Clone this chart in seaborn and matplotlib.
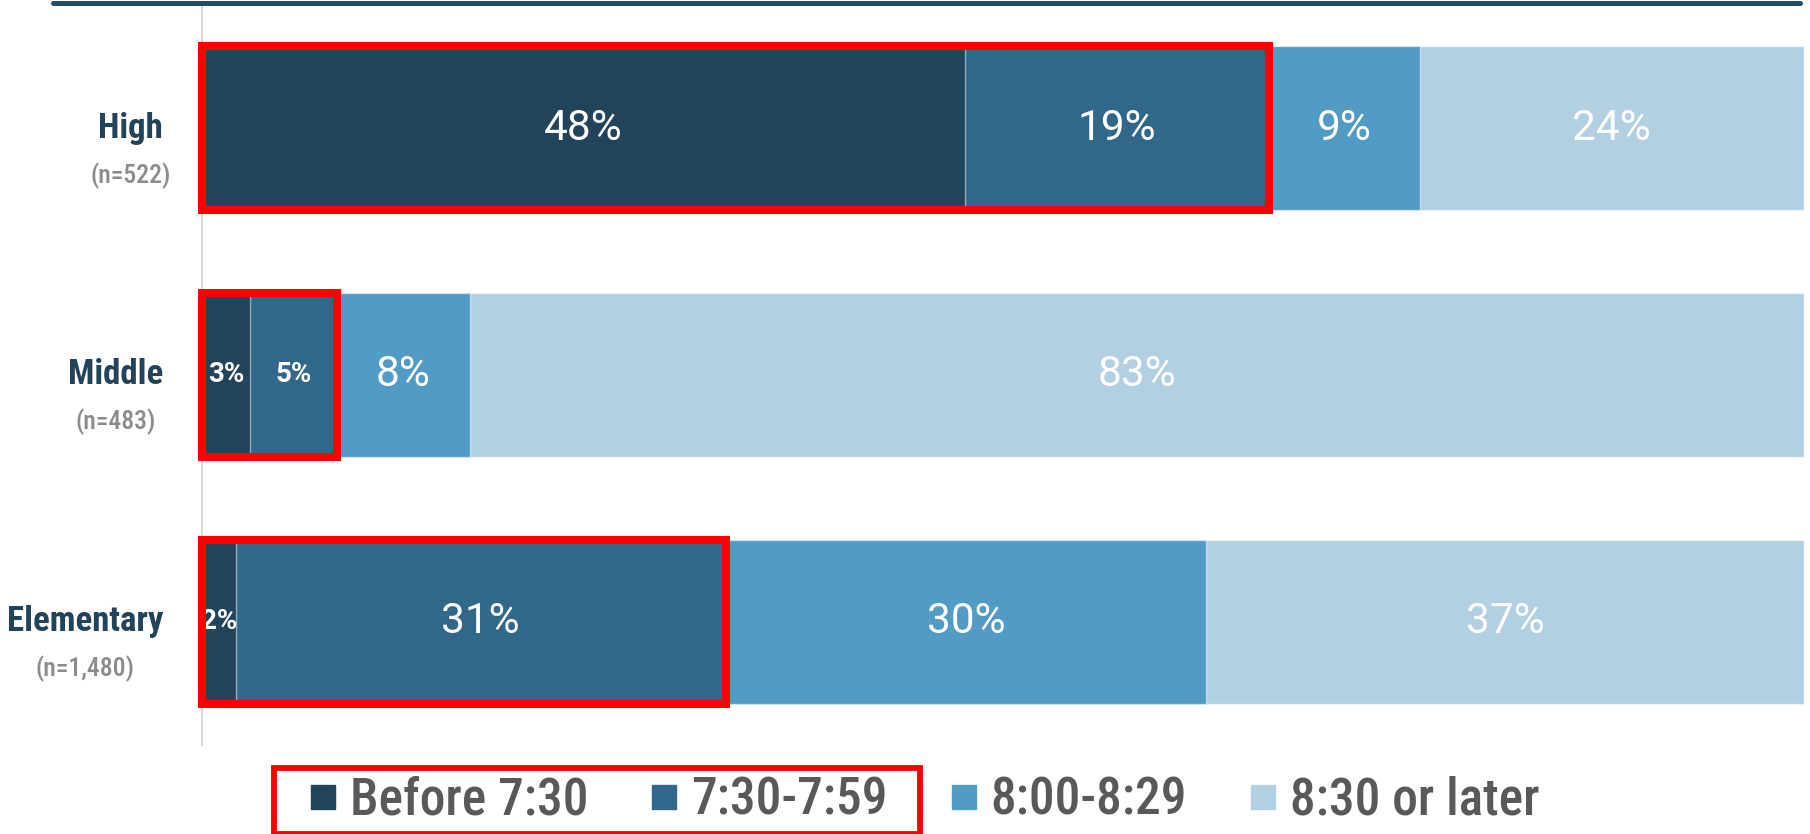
import matplotlib
matplotlib.use("Agg")
import matplotlib.pyplot as plt
import seaborn as sns
import numpy as np
from matplotlib import font_manager
from matplotlib.font_manager import FontProperties
from matplotlib.lines import Line2D
from matplotlib.patches import Rectangle
from matplotlib.transforms import Bbox

# ---- data ----
categories = ["High", "Middle", "Elementary"]
sample_sizes = ["(n=522)", "(n=483)", "(n=1,480)"]
series_names = ["Before 7:30", "7:30-7:59", "8:00-8:29", "8:30 or later"]
before_730 = [47.6, 3.0, 2.1]
t730_759 = [19.0, 5.4, 30.6]
t800_829 = [9.4, 8.3, 30.0]
t830_later = [24.0, 83.3, 37.3]
colors = ["#22445B", "#31688A", "#529BC4", "#B2D0E2"]

sns.set_theme(style="white")
plt.rcParams['font.family'] = ['Roboto', 'DejaVu Sans']

_files = {f.fname.split('/')[-1]: f.fname for f in font_manager.fontManager.ttflist}


def fp(fname, size, fallback_weight='normal'):
    if fname in _files:
        return FontProperties(fname=_files[fname], size=size)
    return FontProperties(family=['Roboto', 'DejaVu Sans'], weight=fallback_weight, size=size)


W, H = 1810, 834
fig = plt.figure(figsize=(W / 100, H / 100), dpi=100)
ax = fig.add_axes([202 / W, 1 - 745 / H, (1804 - 202) / W, 740 / H])

series = [before_730, t730_759, t800_829, t830_later]
cum = np.cumsum(np.array(series), axis=0)
bar_w = 0.665
for i in reversed(range(4)):
    sns.barplot(x=cum[i], y=categories, orient='h', color=colors[i], saturation=1,
                width=bar_w, edgecolor=(1, 1, 1, 0.5), linewidth=1.0, ax=ax)

# value labels
big = fp('Roboto-Regular.ttf', 30.5)
small = fp('Roboto-Bold.ttf', 20, 'bold')
for j in range(len(categories)):
    left = 0.0
    for i in range(4):
        v = series[i][j]
        c = left + v / 2
        lbl = f"{round(v)}%"
        ax.text(c, j, lbl, ha='center', va='center', color='white',
                fontproperties=small if v < 6 else big, zorder=6)
        left += v
    # red highlight boxes around first two segments
    ax.add_patch(Rectangle((0, j - bar_w / 2), cum[1][j], bar_w, fill=False,
                           edgecolor='#FF0000', lw=5.8, zorder=7, clip_on=False))

# category labels
cat_fp = fp('RobotoCondensed-Bold.ttf', 25, 'bold')
n_fp = fp('RobotoCondensed-Medium.ttf', 18.5)
for j, (cat, n) in enumerate(zip(categories, sample_sizes)):
    t = ax.annotate(cat, xy=(0, j), xycoords=('axes fraction', 'data'),
                    xytext=(-39 * 0.72, 0), textcoords='offset points',
                    ha='right', va='center', fontproperties=cat_fp, color='#22445B')
    ax.annotate(n, xy=(0.5, 0.5), xycoords=t, xytext=(0, -47 * 0.72),
                textcoords='offset points', ha='center', va='center',
                fontproperties=n_fp, color='#8C8C8C')

ax.set_xlim(0, 100)
ax.set_ylim(2.5, -0.5)
ax.set_xticks([])
ax.set_yticks([])
ax.set_xlabel('')
ax.set_ylabel('')
for s in ['top', 'right', 'bottom']:
    ax.spines[s].set_visible(False)
ax.spines['left'].set_color('#D9D9D9')
ax.spines['left'].set_linewidth(1.5)

# top rule
fig.add_artist(Line2D([53 / W, 1800 / W], [1 - 2.5 / H] * 2, transform=fig.transFigure,
                      color='#244B66', lw=3.6))

# legend
handles = [Line2D([], [], marker='s', ls='', color=c, markersize=17) for c in colors]
leg = fig.legend(handles, series_names, loc='center', bbox_to_anchor=(0.511, 0.040),
                 ncol=4, frameon=False, prop=fp('RobotoCondensed-Medium.ttf', 37),
                 handlelength=0.5, handletextpad=0.28, columnspacing=1.22,
                 labelcolor='#595959')

fig.canvas.draw()
r = fig.canvas.get_renderer()
bbs = [leg.get_texts()[0].get_window_extent(r), leg.get_texts()[1].get_window_extent(r),
       leg.legend_handles[0].get_window_extent(r)]
u = Bbox.union(bbs)
x0, x1 = u.x0 - 24, u.x1 + 32
y0, y1 = u.y0 - 8, u.y1 + 8
inv = fig.transFigure.inverted()
(fx0, fy0), (fx1, fy1) = inv.transform([(x0, y0), (x1, y1)])
fig.add_artist(Rectangle((fx0, fy0), fx1 - fx0, fy1 - fy0, transform=fig.transFigure,
                         fill=False, edgecolor='#FF0000', lw=4.2))

fig.savefig("out.png", dpi=100)
